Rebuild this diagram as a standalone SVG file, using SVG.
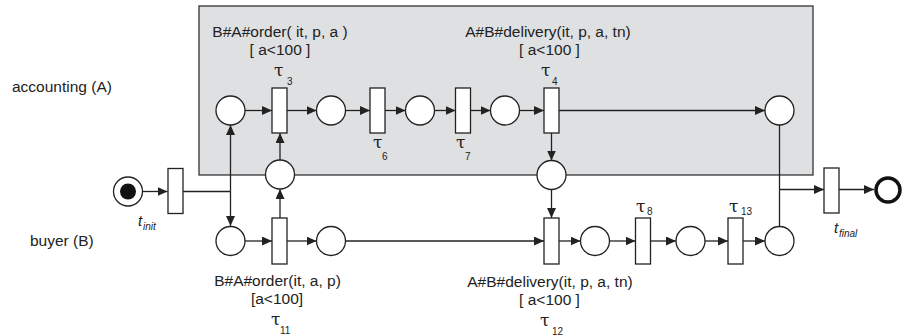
<svg xmlns="http://www.w3.org/2000/svg" width="902" height="336" viewBox="0 0 902 336">
<style>
.lbl{font-family:"Liberation Sans",Arial,sans-serif;font-size:15.5px;fill:#222}
.mid{text-anchor:middle}
.tau{font-family:"DejaVu Serif","Liberation Serif",serif;font-size:17px;fill:#222}
.sub{font-family:"Liberation Sans",Arial,sans-serif;font-size:10px;fill:#222}
.it{font-family:"Liberation Sans",Arial,sans-serif;font-style:italic;fill:#222}
.pl{fill:#fff;stroke:#222;stroke-width:1.3}
.tr{fill:#fff;stroke:#222;stroke-width:1.3}
.arc{fill:none;stroke:#222;stroke-width:1.3}
.arr{marker-end:url(#ah)}
</style>
<defs>
<marker id="ah" markerUnits="userSpaceOnUse" markerWidth="11" markerHeight="9" refX="10" refY="4.5" orient="auto">
<path d="M0,0 L10,4.5 L0,9 z" fill="#222"/>
</marker>
</defs>
<rect id="accounting-lane" x="199" y="6" width="614" height="169" fill="#dfe0e2" stroke="#333" stroke-width="1.3"/>
<text class="lbl" x="12" y="92">accounting (A)</text>
<text class="lbl" x="30" y="246">buyer (B)</text>
<g id="connectors">
<line class="arc arr" x1="143" y1="191.5" x2="167.5" y2="191.5"/>
<line class="arc" x1="182.5" y1="191.5" x2="230.5" y2="191.5"/>
<line class="arc arr" x1="230.5" y1="191.5" x2="230.5" y2="125"/>
<line class="arc arr" x1="230.5" y1="191.5" x2="230.5" y2="226"/>
<line class="arc arr" x1="245" y1="110.5" x2="272" y2="110.5"/>
<line class="arc arr" x1="287" y1="110.5" x2="316.5" y2="110.5"/>
<line class="arc arr" x1="345.5" y1="110.5" x2="370" y2="110.5"/>
<line class="arc arr" x1="385" y1="110.5" x2="405.5" y2="110.5"/>
<line class="arc arr" x1="434.5" y1="110.5" x2="455.5" y2="110.5"/>
<line class="arc arr" x1="470.5" y1="110.5" x2="490.5" y2="110.5"/>
<line class="arc arr" x1="519.5" y1="110.5" x2="544" y2="110.5"/>
<line class="arc arr" x1="559" y1="110.5" x2="765" y2="110.5"/>
<line class="arc arr" x1="280" y1="160" x2="280" y2="133"/>
<line class="arc arr" x1="280" y1="218" x2="280" y2="189"/>
<line class="arc arr" x1="551.5" y1="133" x2="551.5" y2="160.5"/>
<line class="arc arr" x1="551.5" y1="189.5" x2="551.5" y2="218"/>
<line class="arc arr" x1="245" y1="241" x2="272" y2="241"/>
<line class="arc arr" x1="287" y1="241" x2="316.5" y2="241"/>
<line class="arc arr" x1="345.5" y1="241" x2="544" y2="241"/>
<line class="arc arr" x1="559" y1="241" x2="580.5" y2="241"/>
<line class="arc arr" x1="609.5" y1="241" x2="635.5" y2="241"/>
<line class="arc arr" x1="650.5" y1="241" x2="676" y2="241"/>
<line class="arc arr" x1="705" y1="241" x2="728" y2="241"/>
<line class="arc arr" x1="743" y1="241" x2="765" y2="241"/>
<line class="arc" x1="779.5" y1="125" x2="779.5" y2="226.5"/>
<line class="arc arr" x1="779.5" y1="189.5" x2="824" y2="189.5"/>
<line class="arc arr" x1="839" y1="189.5" x2="874" y2="189.5"/>
</g>
<g id="p-start"><circle class="pl" cx="128" cy="191.5" r="14.5"/><circle cx="128" cy="191.5" r="8" fill="#111"/></g>
<g id="t-init"><rect class="tr" x="168" y="168.5" width="15" height="45"/><text class="it" x="138" y="226" font-size="15">t</text><text class="it" x="143" y="230" font-size="10">init</text></g>
<g id="pA1"><circle class="pl" cx="230.5" cy="110.5" r="14.5"/></g>
<g id="t3"><rect class="tr" x="272" y="88" width="15" height="45"/>
<text class="lbl mid" x="280" y="37">B#A#order( it, p, a )</text>
<text class="lbl mid" x="280" y="55">[ a&lt;100 ]</text>
<text class="tau" x="274" y="76">τ</text><text class="sub" x="287" y="85">3</text></g>
<g id="pA2"><circle class="pl" cx="331" cy="110.5" r="14.5"/></g>
<g id="t6"><rect class="tr" x="370" y="88" width="15" height="45"/><text class="tau" x="373" y="148">τ</text><text class="sub" x="382" y="160">6</text></g>
<g id="pA3"><circle class="pl" cx="420" cy="110.5" r="14.5"/></g>
<g id="t7"><rect class="tr" x="455.5" y="88" width="15" height="45"/><text class="tau" x="456" y="148">τ</text><text class="sub" x="465" y="160">7</text></g>
<g id="pA4"><circle class="pl" cx="505" cy="110.5" r="14.5"/></g>
<g id="t4"><rect class="tr" x="544" y="88" width="15" height="45"/>
<text class="lbl mid" x="548" y="37">A#B#delivery(it, p, a, tn)</text>
<text class="lbl mid" x="549.5" y="55">[ a&lt;100 ]</text>
<text class="tau" x="541" y="76">τ</text><text class="sub" x="552" y="85">4</text></g>
<g id="pA5"><circle class="pl" cx="779.5" cy="110.5" r="14.5"/></g>
<g id="pM1"><circle class="pl" cx="280" cy="174.5" r="14.5"/></g>
<g id="pM2"><circle class="pl" cx="551.5" cy="175" r="14.5"/></g>
<g id="pB1"><circle class="pl" cx="230.5" cy="241" r="14.5"/></g>
<g id="t11"><rect class="tr" x="272" y="218" width="15" height="46"/>
<text class="lbl mid" x="277.5" y="286">B#A#order(it, a, p)</text>
<text class="lbl mid" x="277" y="304">[a&lt;100]</text>
<text class="tau" x="271" y="325">τ</text><text class="sub" x="280" y="334">11</text></g>
<g id="pB2"><circle class="pl" cx="331" cy="241" r="14.5"/></g>
<g id="t12"><rect class="tr" x="544" y="218" width="15" height="46"/>
<text class="lbl mid" x="550" y="287">A#B#delivery(it, p, a, tn)</text>
<text class="lbl mid" x="549.5" y="305">[ a&lt;100 ]</text>
<text class="tau" x="540" y="326">τ</text><text class="sub" x="552" y="335">12</text></g>
<g id="pB3"><circle class="pl" cx="595" cy="241" r="14.5"/></g>
<g id="t8"><rect class="tr" x="635.5" y="218" width="15" height="46"/><text class="tau" x="636" y="212">τ</text><text class="sub" x="647" y="215">8</text></g>
<g id="pB4"><circle class="pl" cx="690.5" cy="241" r="14.5"/></g>
<g id="t13"><rect class="tr" x="728" y="218" width="15" height="46"/><text class="tau" x="729" y="212">τ</text><text class="sub" x="741" y="215">13</text></g>
<g id="pB5"><circle class="pl" cx="779.5" cy="241" r="14.5"/></g>
<g id="t-final"><rect class="tr" x="824" y="168" width="15" height="45"/><text class="it" x="834" y="233" font-size="15">t</text><text class="it" x="839" y="237" font-size="10">final</text></g>
<g id="p-end"><circle cx="888" cy="190" r="12" fill="#fff" stroke="#111" stroke-width="3.5"/></g>
</svg>
